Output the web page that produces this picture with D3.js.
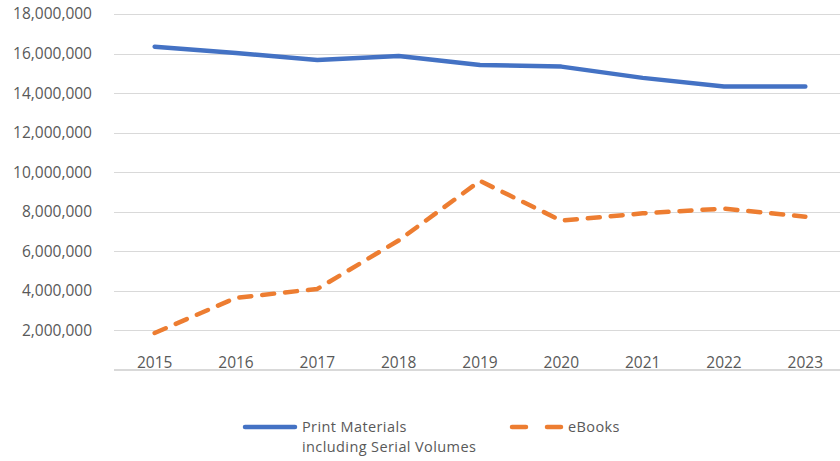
<!DOCTYPE html>
<html lang="en">
<head>
  <meta charset="UTF-8">
  <title>Print vs eBooks</title>
  <script src="https://d3js.org/d3.v7.min.js"></script>
  <style>
    body { margin: 0; background: #fff; }
    text { font-family: "Open Sans", "Noto Sans", sans-serif; fill: #595959; font-size: 15.5px; }
    .legend text { font-size: 14.5px; letter-spacing: 0.4px; }
  </style>
</head>
<body>
  <svg width="840" height="461"></svg>
  <script>
    // data
    const years = ["2015", "2016", "2017", "2018", "2019", "2020", "2021", "2022", "2023"];
    const printVals = [16350000, 16030000, 15680000, 15880000, 15420000, 15340000, 14770000, 14330000, 14330000];
    const ebookVals = [1870000, 3650000, 4100000, 6550000, 9560000, 7550000, 7920000, 8160000, 7750000];
    const yTicks = [2000000, 4000000, 6000000, 8000000, 10000000, 12000000, 14000000, 16000000, 18000000];

    const svg = d3.select("svg");
    const plotLeft = 114, plotRight = 846, plotTop = 14, plotBottom = 370;

    const x = d3.scaleBand().domain(years).range([plotLeft, plotRight]);
    const y = d3.scaleLinear().domain([0, 18000000]).range([plotBottom, plotTop]);
    const cx = d => x(d) + x.bandwidth() / 2;

    // gridlines
    svg.append("g").selectAll("line")
      .data(yTicks)
      .join("line")
      .attr("x1", plotLeft).attr("x2", plotRight)
      .attr("y1", d => Math.round(y(d)) + 0.5).attr("y2", d => Math.round(y(d)) + 0.5)
      .attr("stroke", "#d9d9d9").attr("stroke-width", 1);

    // x axis line
    svg.append("line")
      .attr("x1", plotLeft).attr("x2", plotRight)
      .attr("y1", y(0)).attr("y2", y(0))
      .attr("stroke", "#d9d9d9").attr("stroke-width", 2);

    // y labels
    svg.append("g").selectAll("text")
      .data(yTicks)
      .join("text")
      .attr("x", 92)
      .attr("y", d => y(d))
      .attr("dy", "0.35em")
      .attr("text-anchor", "end")
      .text(d => d3.format(",")(d));

    // x labels
    svg.append("g").selectAll("text")
      .data(years)
      .join("text")
      .attr("x", d => cx(d))
      .attr("y", 363)
      .attr("dy", "0.35em")
      .attr("text-anchor", "middle")
      .text(d => d);

    const line = d3.line().x((d, i) => cx(years[i])).y(d => y(d));

    svg.append("path")
      .datum(printVals)
      .attr("d", line)
      .attr("fill", "none")
      .attr("stroke", "#4472C4")
      .attr("stroke-width", 4.5)
      .attr("stroke-linecap", "round")
      .attr("stroke-linejoin", "round");

    svg.append("path")
      .datum(ebookVals)
      .attr("d", line)
      .attr("fill", "none")
      .attr("stroke", "#ED7D31")
      .attr("stroke-width", 4.5)
      .attr("stroke-dasharray", "12,11")
      .attr("stroke-linecap", "round")
      .attr("stroke-linejoin", "round");

    // legend
    const lg = svg.append("g").attr("class", "legend");
    lg.append("line")
      .attr("x1", 245).attr("x2", 295).attr("y1", 427).attr("y2", 427)
      .attr("stroke", "#4472C4").attr("stroke-width", 4.5).attr("stroke-linecap", "round");
    lg.append("text").attr("x", 302).attr("y", 426.5).attr("dy", "0.35em")
      .text("Print Materials");
    lg.append("text").attr("x", 302).attr("y", 446.5).attr("dy", "0.35em")
      .text("including Serial Volumes");
    lg.append("line")
      .attr("x1", 512).attr("x2", 561).attr("y1", 427).attr("y2", 427)
      .attr("stroke", "#ED7D31").attr("stroke-width", 4.5)
      .attr("stroke-dasharray", "14,21").attr("stroke-linecap", "round");
    lg.append("text").attr("x", 568).attr("y", 426.5).attr("dy", "0.35em")
      .text("eBooks");
  </script>
</body>
</html>
